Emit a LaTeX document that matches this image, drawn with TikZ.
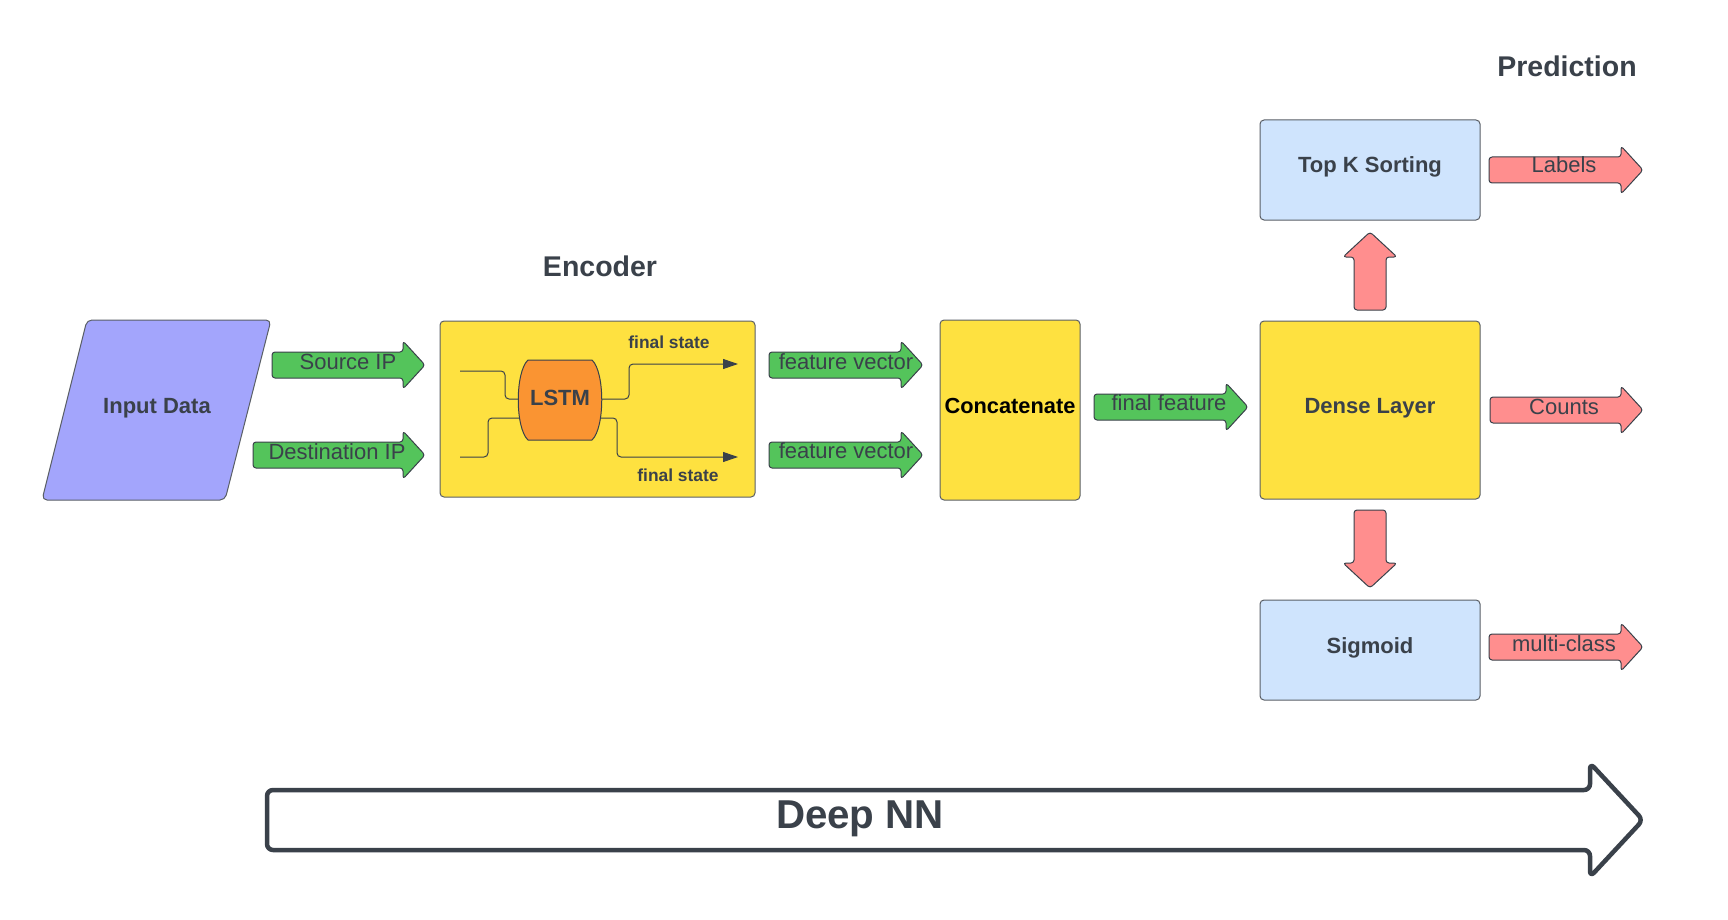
\documentclass[tikz,border=0pt]{standalone}
\usepackage{fontspec}
\setmainfont{Liberation Sans}
\usetikzlibrary{arrows.meta}
\definecolor{tcol}{HTML}{3A414A}
\definecolor{bcol}{HTML}{5A5F66}
\definecolor{purp}{HTML}{A3A5FC}
\definecolor{yel}{HTML}{FEE140}
\definecolor{orng}{HTML}{FA9432}
\definecolor{grn}{HTML}{54C45B}
\definecolor{pnk}{HTML}{FF8E8E}
\definecolor{lblue}{HTML}{CFE4FD}
\newcommand{\fs}[1]{\fontsize{#1}{#1}\selectfont}
% block arrow to the right: x1, tip, yc, fill
\newcommand{\harrowshape}[4]{%
  \path[blk,fill=#4] (#1,{#3-13}) -- ({#2-22},{#3-13}) -- ({#2-22},{#3-24}) -- (#2,#3) -- ({#2-22},{#3+24}) -- ({#2-22},{#3+13}) -- (#1,{#3+13}) -- cycle;}
\begin{document}
\begin{tikzpicture}[x=1pt,y=-1pt,
  blk/.style={draw=tcol,line width=1pt,rounded corners=3pt,line join=round},
  boxst/.style={draw=bcol,line width=1pt,rounded corners=4pt},
  lab/.style={text=tcol,inner sep=0pt,anchor=base,font=\fs{22}},
  blab/.style={text=tcol,inner sep=0pt,anchor=base,font=\bfseries\fs{22}},
  wire/.style={draw=tcol,line width=1pt,rounded corners=4pt}]
\useasboundingbox (0,0) rectangle (1728,920);
\fill[white] (0,0) rectangle (1728,920);

% titles
\node[blab,font=\bfseries\fs{28.5}] (enctitle) at (600,276) {Encoder};
\node[blab,font=\bfseries\fs{28.5}] (predtitle) at (1567,77) {Prediction};

% input data
\path[boxst,fill=purp,rounded corners=5pt] (87,320) -- (271,320) -- (225,500) -- (42,500) -- cycle;
\node[blab] (input) at (157,413) {Input Data};

% source / destination arrows
\harrowshape{272}{425}{365}{grn}
\node[lab] (src) at (348,369) {Source IP};
\harrowshape{253}{425}{455}{grn}
\node[lab] (dst) at (337,459) {Destination IP};

% encoder box
\path[boxst,fill=yel] (440,321) rectangle (755,497);
\node[inner sep=0pt,minimum width=315pt,minimum height=176pt] (encoder) at (597.5,409) {};
% wires
\draw[wire] (460,371) -- (505,371) -- (505,399) -- (540,399);
\draw[wire] (460,457) -- (488,457) -- (488,418) -- (540,418);
\draw[wire,-{Triangle[length=15pt,width=10pt]},rounded corners=4pt] (580,399) -- (629,399) -- (629,364) -- (738,364);
\draw[wire,-{Triangle[length=15pt,width=10pt]},rounded corners=4pt] (580,418) -- (617,418) -- (617,457) -- (738,457);
% LSTM barrel
\path[draw=tcol,line width=1pt,fill=orng] (528,360) -- (592,360) .. controls (605,372) and (605,428) .. (592,440) -- (528,440) .. controls (515,428) and (515,372) .. (528,360) -- cycle;
\node[blab] (lstm) at (560,405) {LSTM};
\node[blab,font=\bfseries\fs{17.4}] (fs1) at (669,348) {final state};
\node[blab,font=\bfseries\fs{17.4}] (fs2) at (678,481) {final state};

% feature vector arrows
\harrowshape{769}{923}{365}{grn}
\node[lab] (fv1) at (846,369) {feature vector};
\harrowshape{769}{923}{455}{grn}
\node[lab] (fv2) at (846,458) {feature vector};

% concatenate
\path[boxst,fill=yel] (940,320) rectangle (1080,500);
\node[inner sep=0pt,anchor=base,font=\bfseries\fs{21.8},text=black] (concat) at (1010,413) {Concatenate};

% final feature
\harrowshape{1094}{1248}{407}{grn}
\node[lab] (ff) at (1169,410) {final feature};

% dense layer
\path[boxst,fill=yel] (1260,321) rectangle (1480,499);
\node[blab] (dense) at (1370,413) {Dense Layer};

% top k
\path[boxst,fill=lblue] (1260,120) rectangle (1480,220);
\node[blab] (topk) at (1370,173) {Top K Sorting};

% sigmoid
\path[boxst,fill=lblue] (1260,600) rectangle (1480,700);
\node[blab] (sig) at (1370,653) {Sigmoid};

% vertical arrows
\path[blk,fill=pnk] (1354,310) -- (1354,257) -- (1343,257) -- (1370,232) -- (1397,257) -- (1386,257) -- (1386,310) -- cycle;
\path[blk,fill=pnk] (1354,510) -- (1354,563) -- (1343,563) -- (1370,588) -- (1397,563) -- (1386,563) -- (1386,510) -- cycle;

% output arrows
\harrowshape{1489}{1643}{170}{pnk}
\node[lab] (labels) at (1564,173) {Labels};
\harrowshape{1490}{1643}{410}{pnk}
\node[lab] (counts) at (1564,414) {Counts};
\harrowshape{1489}{1643}{647}{pnk}
\node[lab] (mc) at (1564,651) {multi-class};

% Deep NN big arrow
\path[draw=tcol,line width=4.5pt,fill=white,rounded corners=6pt,line join=round] (267,790) -- (1590,790) -- (1590,763) -- (1643,820) -- (1590,877) -- (1590,850) -- (267,850) -- cycle;
\node[blab,font=\bfseries\fs{40.3}] (deepnn) at (860,828) {Deep NN};
\end{tikzpicture}
\end{document}
